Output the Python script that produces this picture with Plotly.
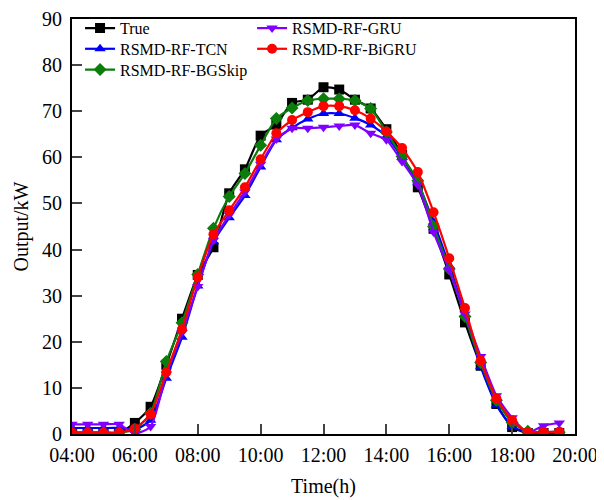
import plotly.graph_objects as go

# 30-minute time stamps, 04:00 - 19:30
times = ["04:00", "04:30", "05:00", "05:30", "06:00", "06:30", "07:00", "07:30",
         "08:00", "08:30", "09:00", "09:30", "10:00", "10:30", "11:00", "11:30",
         "12:00", "12:30", "13:00", "13:30", "14:00", "14:30", "15:00", "15:30",
         "16:00", "16:30", "17:00", "17:30", "18:00", "18:30", "19:00", "19:30"]

true_vals = [0.3, 0.3, 0.3, 0.3, 2.4, 5.9, 15.0, 25.0,
             34.5, 40.5, 52.2, 57.4, 64.7, 67.1, 71.8, 72.5,
             75.2, 74.7, 72.5, 70.6, 66.1, 60.5, 53.5, 44.5,
             34.6, 24.2, 14.8, 6.5, 1.5, 0.2, 0.2, 0.2]
tcn_vals = [1.3, 1.3, 1.3, 1.3, 1.0, 3.0, 12.1, 21.0,
            32.1, 41.7, 46.9, 51.7, 57.9, 63.8, 66.4, 68.3,
            69.5, 69.5, 68.5, 67.0, 64.5, 60.0, 54.5, 46.0,
            36.5, 26.0, 14.6, 6.3, 1.6, 0.5, 0.4, 0.5]
bgskip_vals = [0.3, 0.3, 0.3, 0.3, 1.0, 4.5, 15.7, 24.1,
               34.6, 44.6, 51.5, 56.5, 62.6, 68.4, 70.7, 72.3,
               72.7, 72.7, 72.3, 70.6, 65.5, 60.2, 54.9, 45.0,
               35.8, 25.5, 15.5, 7.3, 2.5, 0.6, 0.4, 0.4]
gru_vals = [2.1, 2.1, 2.1, 2.1, 0.1, 1.6, 13.0, 22.0,
            32.0, 42.0, 47.5, 52.5, 58.5, 64.0, 66.3, 66.3,
            66.5, 66.8, 67.0, 65.2, 63.8, 59.1, 54.0, 43.8,
            35.5, 26.0, 16.8, 8.3, 3.5, 0.4, 1.8, 2.4]
bigru_vals = [0.3, 0.3, 0.3, 0.3, 1.2, 4.3, 13.4, 22.7,
              34.0, 43.3, 48.5, 53.5, 59.6, 65.2, 68.1, 69.8,
              71.1, 71.1, 70.2, 68.4, 65.6, 62.0, 56.8, 48.1,
              38.1, 27.3, 15.9, 7.7, 3.0, 0.4, 0.4, 0.5]

series = [
    ("True", true_vals, "#000000", "square"),
    ("RSMD-RF-TCN", tcn_vals, "#0000FF", "triangle-up"),
    ("RSMD-RF-BGSkip", bgskip_vals, "#0A7D0A", "diamond"),
    ("RSMD-RF-GRU", gru_vals, "#8000FF", "triangle-down"),
    ("RSMD-RF-BiGRU", bigru_vals, "#FF0000", "circle"),
]

# one legend per entry so the rows can sit tight like the original
legend_pos = [(0.016, 0.978), (0.016, 0.928), (0.016, 0.878),
              (0.358, 0.978), (0.358, 0.928)]

x = ["2024-01-01 " + t for t in times]

fig = go.Figure()
legends = {}
for i, (name, vals, color, symbol) in enumerate(series):
    key = "legend" if i == 0 else f"legend{i + 1}"
    fig.add_trace(go.Scatter(
        x=x, y=vals, name=name, mode="lines+markers",
        line=dict(color=color, width=2.2, shape="spline", smoothing=0.6),
        marker=dict(symbol=symbol, size=10, color=color),
        legend=key,
    ))
    lx, ly = legend_pos[i]
    legends[key] = dict(x=lx, y=ly, xanchor="left", yanchor="middle",
                        bgcolor="rgba(0,0,0,0)", font=dict(size=16),
                        itemwidth=30)

font = "Liberation Serif, Times New Roman, serif"
fig.update_layout(
    # page has an 8px body margin, so the figure is drawn a bit smaller
    width=596, height=492,
    margin=dict(l=64, r=29, t=11, b=66, autoexpand=False),
    plot_bgcolor="white", paper_bgcolor="white",
    font=dict(family=font, size=20, color="black"),
    showlegend=True,
    **legends,
    xaxis=dict(
        title=dict(text="Time(h)", font=dict(size=20), standoff=14),
        type="date", automargin=False,
        range=["2024-01-01 04:00", "2024-01-01 20:00"],
        tickformat="%H:%M", dtick=7200000,
        tick0="2024-01-01 04:00",
        ticks="inside", ticklen=10, tickwidth=2,
        ticklabelstandoff=2, ticklabeloverflow="allow",
        showline=True, linewidth=2, linecolor="black", mirror=True,
        showgrid=False, zeroline=False,
        tickfont=dict(size=20),
    ),
    yaxis=dict(
        title=dict(text="Output/kW", font=dict(size=20), standoff=8),
        automargin=False,
        range=[0, 90], dtick=10,
        ticks="inside", ticklen=10, tickwidth=2,
        ticklabelstandoff=4, ticklabeloverflow="allow",
        showline=True, linewidth=2, linecolor="black", mirror=True,
        showgrid=False, zeroline=False,
        tickfont=dict(size=20),
    ),
)

fig.write_html("out.html")
